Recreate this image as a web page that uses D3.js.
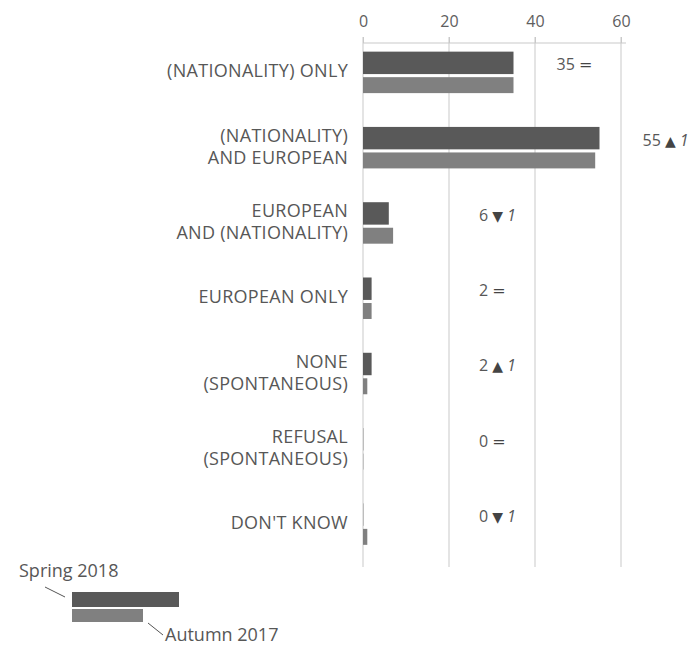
<!DOCTYPE html>
<html>
<head>
<meta charset="utf-8">
<script src="https://cdn.jsdelivr.net/npm/d3@7"></script>
<style>
  html, body { margin: 0; padding: 0; background: #fff; }
  svg { display: block; }
  text { font-family: "Open Sans", "Noto Sans", sans-serif; }
</style>
</head>
<body>
<svg id="chart" width="694" height="645"></svg>
<script>
// ---- data ----
const categories = [
  "(NATIONALITY) ONLY",
  "(NATIONALITY)|AND EUROPEAN",
  "EUROPEAN|AND (NATIONALITY)",
  "EUROPEAN ONLY",
  "NONE|(SPONTANEOUS)",
  "REFUSAL|(SPONTANEOUS)",
  "DON'T KNOW"
];
const spring2018 = [35, 55, 6, 2, 2, 0, 0];
const autumn2017 = [35, 54, 7, 2, 1, 0, 1];
const changeSymbol = ["=", "▲", "▼", "=", "▲", "=", "▼"];
const changeValue  = ["", "1", "1", "", "1", "", "1"];
const xTicks = [0, 20, 40, 60];
const seriesNames = ["Spring 2018", "Autumn 2017"];

// ---- layout ----
const svg = d3.select("#chart");
const x = d3.scaleLinear().domain([0, 60]).range([363, 621]);
const y = d3.scaleBand().domain(categories).range([35, 562]);
const step = y.step();
const axisY = 43;
const gridBottom = 567;
const darkCol = "#595959", lightCol = "#808080";
const textCol = "#575757", gridCol = "#c9c9c9";

// gridlines
svg.append("g").selectAll("line").data(xTicks).join("line")
  .attr("x1", d => x(d)).attr("x2", d => x(d))
  .attr("y1", axisY - 6).attr("y2", gridBottom)
  .attr("stroke", gridCol).attr("stroke-width", 1);

// top axis
const axis = d3.axisTop(x).tickValues(xTicks).tickSize(6).tickPadding(10);
const gAxis = svg.append("g").attr("transform", `translate(0,${axisY})`).call(axis);
gAxis.select(".domain").attr("stroke", gridCol).attr("d", `M${x(0)},0H${x(60) + 5}`);
gAxis.selectAll(".tick line").attr("stroke", gridCol);
gAxis.selectAll(".tick text").attr("fill", "#5e5e5e")
  .style("font-size", "16px").style("font-family", '"Open Sans", sans-serif');

// bars
const barW = v => Math.max(1, x(v) - x(0));
svg.append("g").selectAll("rect").data(categories).join("rect")
  .attr("x", x(0)).attr("y", d => y(d) + step * 0.221)
  .attr("width", (d, i) => barW(spring2018[i]))
  .attr("height", step * 0.298)
  .attr("fill", (d, i) => spring2018[i] > 0 ? darkCol : "#bdbdbd");
svg.append("g").selectAll("rect").data(categories).join("rect")
  .attr("x", x(0)).attr("y", d => y(d) + step * 0.56)
  .attr("width", (d, i) => barW(autumn2017[i]))
  .attr("height", step * 0.212)
  .attr("fill", (d, i) => autumn2017[i] > 0 ? lightCol : "#c4c4c4");

// category labels
const labels = svg.append("g").selectAll("text").data(categories).join("text")
  .attr("text-anchor", "end")
  .attr("fill", textCol)
  .style("font-size", "18px")
  .style("letter-spacing", "0.3px");
labels.each(function(d) {
  const lines = d.split("|");
  const c = y(d) + step / 2 - 1.5;
  const lh = 22;
  const t = d3.select(this);
  lines.forEach((ln, k) => {
    t.append("tspan").attr("x", 348)
      .attr("y", c + (k - (lines.length - 1) / 2) * lh)
      .attr("dy", "0.35em").text(ln);
  });
});

// change annotations
const ann = svg.append("g").selectAll("text").data(categories).join("text")
  .attr("x", (d, i) => Math.max(x(spring2018[i]) + 43, 479))
  .attr("y", d => y(d) + step / 2 - 8)
  .attr("dy", "0.35em")
  .attr("fill", textCol)
  .style("font-size", "16px");
ann.each(function(d, i) {
  const t = d3.select(this);
  t.append("tspan").text(spring2018[i] + " ");
  t.append("tspan").attr("fill", "#444")
    .style("font-family", '"DejaVu Sans", sans-serif')
    .style("font-size", changeSymbol[i] === "=" ? "16px" : "14px")
    .text(changeSymbol[i]);
  if (changeValue[i]) {
    t.append("tspan").attr("dx", 4).style("font-style", "italic").text(changeValue[i]);
  }
});

// legend
const lg = svg.append("g");
lg.append("text").attr("x", 19).attr("y", 577).attr("fill", textCol)
  .style("font-size", "18px").text(seriesNames[0]);
lg.append("line").attr("x1", 45).attr("y1", 587).attr("x2", 65).attr("y2", 597)
  .attr("stroke", "#555").attr("stroke-width", 1);
lg.append("rect").attr("x", 72).attr("y", 592).attr("width", 107).attr("height", 15).attr("fill", darkCol);
lg.append("rect").attr("x", 72).attr("y", 609).attr("width", 71).attr("height", 13).attr("fill", lightCol);
lg.append("line").attr("x1", 148).attr("y1", 623).attr("x2", 163).attr("y2", 635)
  .attr("stroke", "#555").attr("stroke-width", 1);
lg.append("text").attr("x", 165).attr("y", 641).attr("fill", textCol)
  .style("font-size", "18px").text(seriesNames[1]);
</script>
</body>
</html>
